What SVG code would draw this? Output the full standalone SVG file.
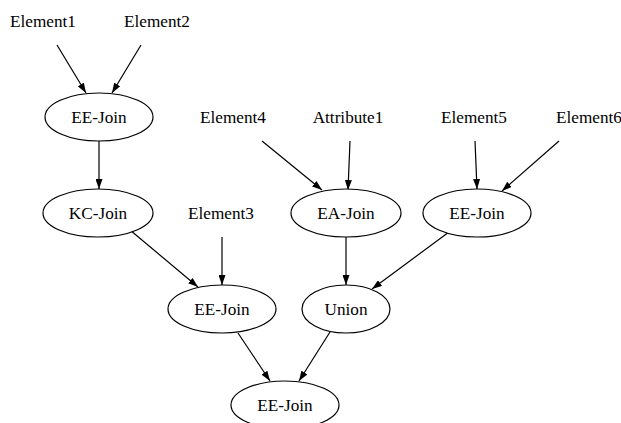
<svg xmlns="http://www.w3.org/2000/svg" width="621" height="423" viewBox="0 0 621 423">
<defs>
<marker id="ah" markerWidth="10" markerHeight="7" refX="10" refY="3.5" orient="auto" markerUnits="userSpaceOnUse">
<path d="M0,0 L10,3.5 L0,7 z" fill="#000"/>
</marker>
<style>
.t text{font-family:'Liberation Serif','Times New Roman',serif;font-size:17.2px;fill:#000;text-anchor:middle}
ellipse{fill:#fff;stroke:#000;stroke-width:1.2}
.e line{stroke:#000;stroke-width:1.2;marker-end:url(#ah)}
</style>
</defs>
<rect width="621" height="423" fill="#fff"/>
<g class="e" id="connectors">
<line x1="57" y1="45" x2="86" y2="93"/>
<line x1="141" y1="45" x2="112" y2="93"/>
<line x1="99" y1="141" x2="99" y2="189"/>
<line x1="130" y1="230" x2="198" y2="287"/>
<line x1="222" y1="237" x2="222" y2="285"/>
<line x1="262" y1="141" x2="322" y2="190"/>
<line x1="350" y1="141" x2="348" y2="190"/>
<line x1="475" y1="141" x2="477" y2="189"/>
<line x1="559" y1="141" x2="502" y2="191"/>
<line x1="346" y1="237" x2="346" y2="285"/>
<line x1="449" y1="232" x2="372" y2="289"/>
<line x1="238" y1="333" x2="270" y2="381"/>
<line x1="330" y1="332" x2="299" y2="381"/>
</g>
<g class="t">
<g id="element1"><text x="43" y="27">Element1</text></g>
<g id="element2"><text x="157" y="27">Element2</text></g>
<g id="eejoin1"><ellipse cx="99" cy="117" rx="54" ry="24"/><text x="99" y="123">EE-Join</text></g>
<g id="kcjoin"><ellipse cx="98" cy="213" rx="55" ry="24"/><text x="98" y="219">KC-Join</text></g>
<g id="element3"><text x="221" y="219">Element3</text></g>
<g id="element4"><text x="233" y="123">Element4</text></g>
<g id="attribute1"><text x="348" y="123">Attribute1</text></g>
<g id="element5"><text x="474" y="123">Element5</text></g>
<g id="element6"><text x="589" y="123">Element6</text></g>
<g id="eajoin"><ellipse cx="346" cy="213" rx="55" ry="24"/><text x="346" y="219">EA-Join</text></g>
<g id="eejoin2"><ellipse cx="477" cy="213" rx="54" ry="24"/><text x="477" y="219">EE-Join</text></g>
<g id="eejoin3"><ellipse cx="222" cy="309" rx="54" ry="24"/><text x="222" y="315">EE-Join</text></g>
<g id="union"><ellipse cx="346" cy="309" rx="44" ry="24"/><text x="346" y="315">Union</text></g>
<g id="eejoin4"><ellipse cx="285" cy="405" rx="54" ry="24"/><text x="285" y="411">EE-Join</text></g>
</g>
</svg>
